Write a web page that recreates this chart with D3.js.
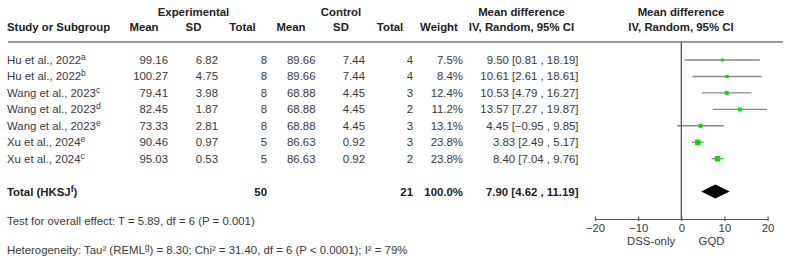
<!DOCTYPE html>
<html>
<head>
<meta charset="utf-8">
<script src="https://cdn.jsdelivr.net/npm/d3@7"></script>
<style>
  body { margin: 0; background: #fff; }
  text { font-family: "Liberation Sans", Arial, sans-serif; }
</style>
</head>
<body>
<div id="chart"></div>
<script>
// data
var studies = ["Hu et al., 2022", "Hu et al., 2022", "Wang et al., 2023", "Wang et al., 2023", "Wang et al., 2023", "Xu et al., 2024", "Xu et al., 2024"]
var notes = ["a", "b", "c", "d", "e", "e", "c"]
var expMean = [99.16, 100.27, 79.41, 82.45, 73.33, 90.46, 95.03]
var expSD = [6.82, 4.75, 3.98, 1.87, 2.81, 0.97, 0.53]
var expN = [8, 8, 8, 8, 8, 5, 5]
var ctlMean = [89.66, 89.66, 68.88, 68.88, 68.88, 86.63, 86.63]
var ctlSD = [7.44, 7.44, 4.45, 4.45, 4.45, 0.92, 0.92]
var ctlN = [4, 4, 3, 2, 3, 3, 2]
var weights = [7.5, 8.4, 12.4, 11.2, 13.1, 23.8, 23.8]
var md = [9.50, 10.61, 10.53, 13.57, 4.45, 3.83, 8.40]
var lo = [0.81, 2.61, 4.79, 7.27, -0.95, 2.49, 7.04]
var hi = [18.19, 18.61, 16.27, 19.87, 9.85, 5.17, 9.76]
var total = { expN: 50, ctlN: 21, weight: 100.0, md: 7.90, lo: 4.62, hi: 11.19 }
var axisTicks = [-20, -10, 0, 10, 20]

var W = 791, H = 270
var FS = 11.4
var svg = d3.select("#chart").append("svg")
    .attr("width", W)
    .attr("height", H)

var fmt2 = d3.format(".2f")
var minus = function (s) { return String(s).replace(/-/g, "\u2212") }

var x = d3.scaleLinear().domain([-20, 20]).range([595, 767.6])
var y = d3.scalePoint().domain(d3.range(studies.length)).range([60, 158.7])
var sq = d3.scaleSqrt().domain([0, 23.8]).range([0, 5.4])

var rows = studies.map(function (s, i) {
    return { study: s, note: notes[i], em: expMean[i], esd: expSD[i], en: expN[i],
        cm: ctlMean[i], csd: ctlSD[i], cn: ctlN[i], w: weights[i], md: md[i], lo: lo[i], hi: hi[i] }
})

var txtColor = "#3a3a3a"

// headers
function head(t, xx, yy, anchor, bold) {
    svg.append("text").attr("x", xx).attr("y", yy)
        .attr("text-anchor", anchor || "middle")
        .attr("font-size", FS)
        .attr("font-weight", bold === false ? "normal" : "bold")
        .attr("fill", "#222")
        .text(t)
}
head("Experimental", 193.5, 16)
head("Control", 341, 16)
head("Mean difference", 521.5, 16)
head("Mean difference", 681, 16)
head("Study or Subgroup", 7, 31, "start")
head("Mean", 144, 31)
head("SD", 193.5, 31)
head("Total", 242.5, 31)
head("Mean", 291, 31)
head("SD", 341, 31)
head("Total", 390, 31)
head("Weight", 439, 31)
head("IV, Random, 95% CI", 521.5, 31)
head("IV, Random, 95% CI", 681, 31)

svg.append("line")
    .attr("x1", 8).attr("x2", 783)
    .attr("y1", 42).attr("y2", 42)
    .attr("stroke", "#999").attr("stroke-width", 2)

// study rows
var g = svg.selectAll(".row").data(rows).enter().append("g")
    .attr("class", "row")
    .attr("transform", function (d, i) { return "translate(0," + (y(i) + 4) + ")" })

var label = g.append("text").attr("x", 7).attr("font-size", FS).attr("fill", txtColor)
label.append("tspan").text(function (d) { return d.study })
label.append("tspan").attr("font-size", 8.5).attr("dy", -4).text(function (d) { return d.note })

var cols = [
    { x: 168, f: function (d) { return fmt2(d.em) } },
    { x: 218, f: function (d) { return fmt2(d.esd) } },
    { x: 267, f: function (d) { return d.en } },
    { x: 315.5, f: function (d) { return fmt2(d.cm) } },
    { x: 365, f: function (d) { return fmt2(d.csd) } },
    { x: 413, f: function (d) { return d.cn } },
    { x: 463, f: function (d) { return d.w.toFixed(1) + "%" } },
    { x: 578.5, f: function (d) { return fmt2(d.md) + " [" + minus(fmt2(d.lo)) + " , " + fmt2(d.hi) + "]" } }
]
cols.forEach(function (c) {
    g.append("text")
        .attr("x", c.x)
        .attr("text-anchor", "end")
        .attr("font-size", FS)
        .attr("fill", txtColor)
        .text(c.f)
})

// total row
var ty = 196
var tl = svg.append("text").attr("x", 7).attr("y", ty).attr("font-size", FS)
    .attr("font-weight", "bold").attr("fill", "#222")
tl.append("tspan").text("Total (HKSJ")
tl.append("tspan").attr("font-size", 8.5).attr("dy", -4).text("f")
tl.append("tspan").attr("dy", 4).text(")")
;[[267, total.expN], [413, total.ctlN], [463, total.weight.toFixed(1) + "%"],
  [578.5, fmt2(total.md) + " [" + fmt2(total.lo) + " , " + fmt2(total.hi) + "]"]].forEach(function (c) {
    svg.append("text").attr("x", c[0]).attr("y", ty)
        .attr("text-anchor", "end").attr("font-size", FS)
        .attr("font-weight", "bold").attr("fill", "#222")
        .text(c[1])
})

// footer texts
svg.append("text").attr("x", 7).attr("y", 225).attr("font-size", FS).attr("fill", txtColor)
    .text("Test for overall effect: T = 5.89, df = 6 (P = 0.001)")
var het = svg.append("text").attr("x", 7).attr("y", 254).attr("font-size", FS).attr("fill", txtColor)
het.append("tspan").text("Heterogeneity: Tau\u00b2 (REML")
het.append("tspan").attr("font-size", 8.5).attr("dy", -4).text("g")
het.append("tspan").attr("dy", 4).text(") = 8.30; Chi\u00b2 = 31.40, df = 6 (P < 0.0001); I\u00b2 = 79%")

// forest plot
var axisY = 219
svg.append("line")
    .attr("x1", x(0)).attr("x2", x(0))
    .attr("y1", 42).attr("y2", axisY)
    .attr("stroke", "#555").attr("stroke-width", 1.3)

g.append("line")
    .attr("x1", function (d) { return x(d.lo) })
    .attr("x2", function (d) { return x(d.hi) })
    .attr("y1", -4).attr("y2", -4)
    .attr("stroke", "#888").attr("stroke-width", 1.4)

g.append("rect")
    .attr("x", function (d) { return x(d.md) - sq(d.w) / 2 })
    .attr("y", function (d) { return -4 - sq(d.w) / 2 })
    .attr("width", function (d) { return sq(d.w) })
    .attr("height", function (d) { return sq(d.w) })
    .attr("fill", "#00dd00")

var dy = 191.5
svg.append("path")
    .attr("d", "M" + x(total.lo) + "," + dy + "L" + x(total.md) + "," + (dy - 7) +
        "L" + x(total.hi) + "," + dy + "L" + x(total.md) + "," + (dy + 7) + "Z")
    .attr("fill", "#000")

var axis = d3.axisBottom(x).tickValues(axisTicks).tickSizeInner(2).tickSizeOuter(0)
    .tickFormat(function (d) { return minus(d) })
var ag = svg.append("g").attr("transform", "translate(0," + axisY + ")").call(axis)
ag.select(".domain").attr("stroke", "#555").attr("stroke-width", 1.2)
ag.selectAll(".tick line").attr("y1", -2.5).attr("y2", 2).attr("stroke", "#555").attr("stroke-width", 1.2)
ag.selectAll(".tick text").attr("y", 4.5).attr("font-size", FS)
    .attr("font-family", "'Liberation Sans', Arial, sans-serif").attr("fill", txtColor)

svg.append("text").attr("x", x(-7)).attr("y", 245).attr("text-anchor", "middle")
    .attr("font-size", FS).attr("fill", txtColor).text("DSS-only")
svg.append("text").attr("x", x(7)).attr("y", 245).attr("text-anchor", "middle")
    .attr("font-size", FS).attr("fill", txtColor).text("GQD")
</script>
</body>
</html>
